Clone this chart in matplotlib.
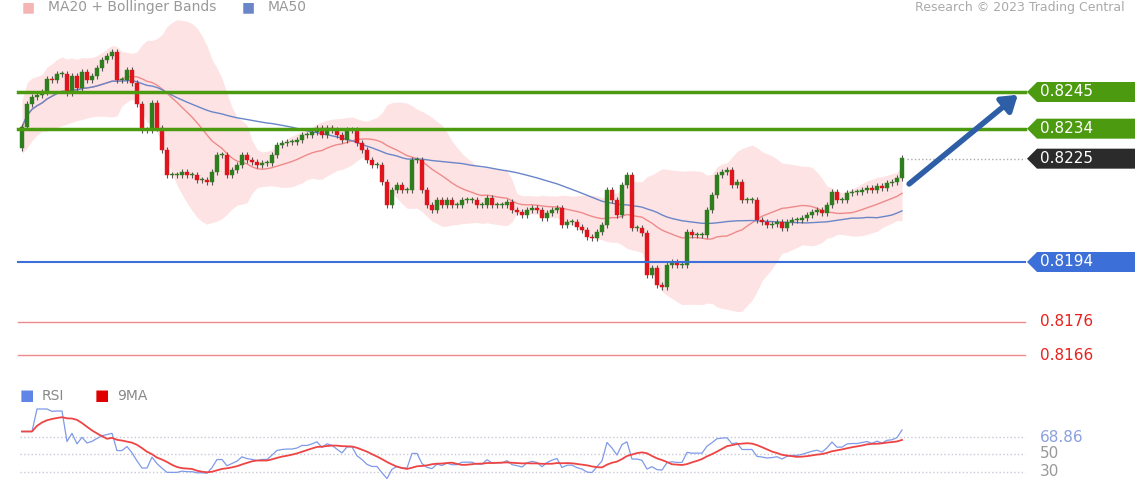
import numpy as np
import pandas as pd
import matplotlib.pyplot as plt
from matplotlib.patches import Polygon, Rectangle

first_open = 0.82282
closes = [
    .82345, .82414, .82435, .82441, .82450, .82489, .82486, .82504, .82504, .82447,
    .82498, .82462, .82510, .82486, .82498, .82522, .82546, .82558, .82570, .82486,
    .82486, .82516, .82477, .82414, .82336, .82336, .82417, .82342, .82276, .82201,
    .82201, .82201, .82210, .82201, .82201, .82186, .82186, .82180, .82210, .82261,
    .82261, .82201, .82216, .82231, .82261, .82246, .82240, .82231, .82237, .82237,
    .82261, .82291, .82297, .82300, .82300, .82306, .82321, .82321, .82330, .82342,
    .82321, .82342, .82336, .82321, .82306, .82336, .82336, .82297, .82276, .82246,
    .82231, .82231, .82180, .82111, .82156, .82171, .82156, .82156, .82246, .82246,
    .82156, .82111, .82096, .82126, .82111, .82126, .82111, .82111, .82126, .82126,
    .82126, .82111, .82111, .82132, .82111, .82111, .82111, .82120,
    .82096, .82090, .82081, .82096, .82102, .82096, .82072, .82087, .82096, .82102,
    .82051, .82060, .82060, .82045, .82036, .82015, .82012, .82030, .82051, .82156,
    .82126, .82081, .82171, .82201, .82042, .82042, .82027, .81901, .81922, .81871,
    .81865, .81931, .81940, .81931, .81931, .82030, .82021, .82021, .82021, .82096,
    .82141, .82201, .82210, .82216, .82171, .82180, .82126, .82126, .82126, .82066,
    .82060, .82051, .82054, .82060, .82042, .82060, .82066, .82066, .82072, .82081,
    .82090, .82096, .82087, .82111, .82150, .82126, .82126, .82147, .82150, .82150,
    .82156, .82162, .82156, .82168, .82162, .82177, .82180, .82192, .82252,
]
wick = 0.00008

levels_green = [0.8245, 0.8234]
level_last = 0.8225
level_blue = 0.8194
levels_red = [0.8176, 0.8166]
rsi_label = "68.86"
rsi_ticks = [50, 30]

W, H = 1140, 500
n = len(closes)
x = np.arange(n)
c = np.array(closes)
o = np.concatenate([[first_open], c[:-1]])
hi = np.maximum(o, c) + wick
lo = np.minimum(o, c) - wick

s = pd.Series(c)
ma20 = s.rolling(20, min_periods=1).mean()
sd20 = s.rolling(20, min_periods=1).std().fillna(0.0004)
ma50 = s.rolling(50, min_periods=1).mean()
d = s.diff().fillna(0)
up = d.clip(lower=0).ewm(alpha=1 / 14, adjust=False).mean()
dn = (-d.clip(upper=0)).ewm(alpha=1 / 14, adjust=False).mean()
rsi = (100 * up / (up + dn).replace(0, np.nan)).fillna(75)
rsi.iloc[:3] = 75
rsi9 = rsi.rolling(9, min_periods=1).mean()

# pixel -> data mapping for x: candle 0 at px 22, last at px 902
px0, px1 = 22, 902
step = (px1 - px0) / (n - 1)
xlim = (-px0 / step, (W - px0) / step)

fig = plt.figure(figsize=(W / 100, H / 100), dpi=100)
fig.patch.set_facecolor('white')
ax = fig.add_axes([0, 1 - 378 / H, 1, 378 / H])
ax.set_xlim(*xlim)
ppd = 0.00003  # price per pixel
ax.set_ylim(0.8245 - (378 - 92) * ppd, 0.8245 + 92 * ppd)
ax.axis('off')

ax.fill_between(x, ma20 - 2 * sd20, ma20 + 2 * sd20, color='#fde3e3', lw=0, zorder=1)
ax.plot(x, ma20, color='#f08a8a', lw=1, zorder=2)
ax.plot(x, ma50, color='#6a86c8', lw=1, zorder=2)

for i in range(n):
    col = '#2e7d1e' if c[i] >= o[i] else '#e0141c'
    ax.vlines(x[i], lo[i], hi[i], color='#555555', lw=0.8, zorder=3)
    b0, b1 = min(o[i], c[i]), max(o[i], c[i])
    ax.add_patch(Rectangle((x[i] - 0.4, b0), 0.8, max(b1 - b0, 0.00002),
                           facecolor=col, edgecolor=col, lw=0.3, zorder=4))

xa = 18 / W
xb = 1025 / W
for lv in levels_green:
    ax.axhline(lv, xa, xb, color='#4c9a10', lw=2.5, zorder=5)
ax.axhline(level_blue, xa, xb, color='#3d6fd8', lw=1.5, zorder=5)
for lv in levels_red:
    ax.axhline(lv, xa, xb, color='#f08a8a', lw=1, zorder=5)
ax.axhline(level_last, (px1 + 5) / W, xb, color='#aaaaaa', lw=1, ls=':', zorder=5)

tr = ax.get_yaxis_transform()
hh = 10 * ppd


def tag(y, color, txt):
    pts = [(1027 / W, y), (1037 / W, y + hh), (1135 / W, y + hh),
           (1135 / W, y - hh), (1037 / W, y - hh)]
    ax.add_patch(Polygon(pts, closed=True, transform=tr, facecolor=color,
                         edgecolor='none', clip_on=False, zorder=6))
    ax.text(1040 / W, y, txt, transform=tr, color='white', fontsize=11,
            va='center', ha='left', zorder=7)


for lv in levels_green:
    tag(lv, '#4c9a10', f"{lv:.4f}")
tag(level_last, '#2b2b2b', f"{level_last:.4f}")
tag(level_blue, '#3d6fd8', f"{level_blue:.4f}")
for lv in levels_red:
    ax.text(1040 / W, lv, f"{lv:.4f}", transform=tr, color='#e8201c',
            fontsize=11, va='center', ha='left')

ax.annotate('', xy=((1020 - px0) / step, 0.8245 - 1 * ppd),
            xytext=((907 - px0) / step, level_last - 27 * ppd),
            arrowprops=dict(arrowstyle='-|>,head_length=0.9,head_width=0.6',
                        color='#2d5ea6', lw=4), zorder=8)

# top legend
ty = 1 - 7 / H
fig.text(22 / W, ty, '■', color='#f5b5b5', fontsize=10, va='center')
fig.text(48 / W, ty, 'MA20 + Bollinger Bands', color='#999999', fontsize=10, va='center')
fig.text(242 / W, ty, '■', color='#6a86c8', fontsize=10, va='center')
fig.text(268 / W, ty, 'MA50', color='#999999', fontsize=10, va='center')
fig.text(1125 / W, ty, 'Research © 2023 Trading Central', color='#aaaaaa',
         fontsize=9, va='center', ha='right')

# RSI panel
ax2 = fig.add_axes([0, 5 / H, 1, 95 / H])
ax2.set_xlim(*xlim)
ax2.set_ylim(30 - 23 / 0.9, 50 + 54 / 0.9)
ax2.axis('off')
for v in [float(rsi_label)] + rsi_ticks:
    ax2.axhline(v, 20 / W, 1025 / W, color='#c8c8d8', lw=1, ls=':')
ax2.plot(x, rsi, color='#7f9ae8', lw=0.9)
ax2.plot(x, rsi9, color='#ee4444', lw=1.3)
ax2.text(1040 / W, float(rsi_label), rsi_label, transform=ax2.get_yaxis_transform(),
         color='#8aa0e0', fontsize=11, va='center')
for v in rsi_ticks:
    ax2.text(1040 / W, v, str(v), transform=ax2.get_yaxis_transform(),
             color='#999999', fontsize=11, va='center')
fig.text(20 / W, 1 - 396 / H, '■', color='#5f86e6', fontsize=11, va='center')
fig.text(42 / W, 1 - 396 / H, 'RSI', color='#888888', fontsize=10, va='center')
fig.text(95 / W, 1 - 396 / H, '■', color='#e00000', fontsize=11, va='center')
fig.text(117 / W, 1 - 396 / H, '9MA', color='#888888', fontsize=10, va='center')

fig.savefig('out.png', dpi=100)
